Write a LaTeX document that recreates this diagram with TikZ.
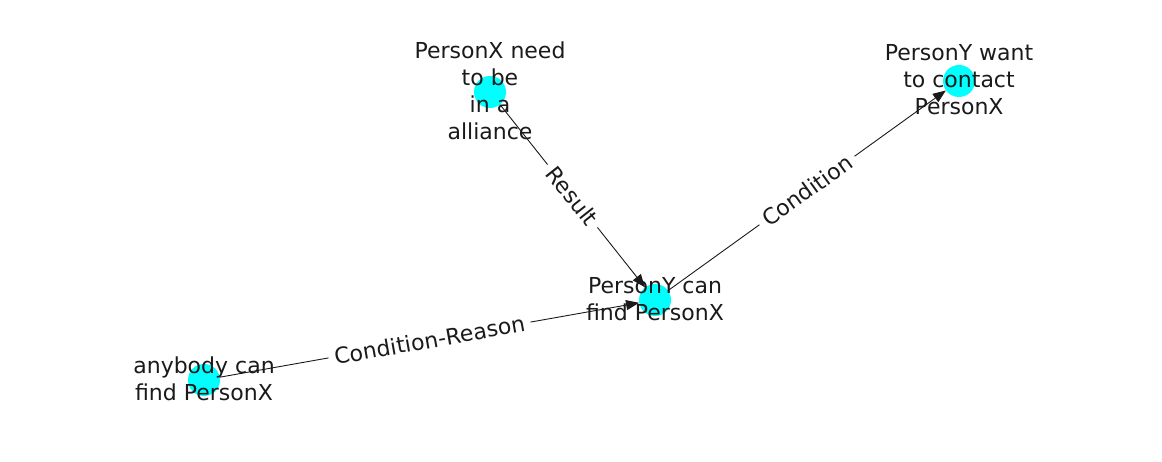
\documentclass[tikz,border=0pt]{standalone}
\usepackage{fontspec}
\setmainfont{DejaVu Sans}
\usetikzlibrary{arrows.meta}
\definecolor{nodecyan}{HTML}{00FFFF}
\definecolor{ink}{HTML}{1A1A1A}
\begin{document}
\begin{tikzpicture}[x=1pt, y=-1pt,
        pt/.style={circle, fill=nodecyan, inner sep=0pt, minimum size=32pt},
        lbl/.style={align=center, text=ink, font=\fontsize{22}{27}\selectfont},
        rel/.style={midway, sloped, fill=white, inner sep=6pt, text=ink, font=\fontsize{22}{24}\selectfont},
        link/.style={-{Triangle[length=13pt,width=10pt]}, line width=0.9pt, draw=ink}]
    \useasboundingbox (0, 0) rectangle (1162, 462);
    \node[pt] (need) at (490, 92) {};
    \node[pt] (want) at (959, 81) {};
    \node[pt] (find) at (655, 300) {};
    \node[pt] (any) at (204, 380) {};
    \draw[link] (need) -- (find) node[rel] {Result};
    \draw[link] (find) -- (want) node[rel] {Condition};
    \draw[link] (any) -- (find) node[rel] {Condition-Reason};
    \node[lbl] (needtxt) at (490, 91) {PersonX need\\to be\\in a\\alliance};
    \node[lbl] (wanttxt) at (959, 80) {PersonY want\\to contact\\PersonX};
    \node[lbl] (findtxt) at (655, 299) {PersonY can\\find PersonX};
    \node[lbl] (anytxt) at (204, 379) {anybody can\\find PersonX};
\end{tikzpicture}
\end{document}
